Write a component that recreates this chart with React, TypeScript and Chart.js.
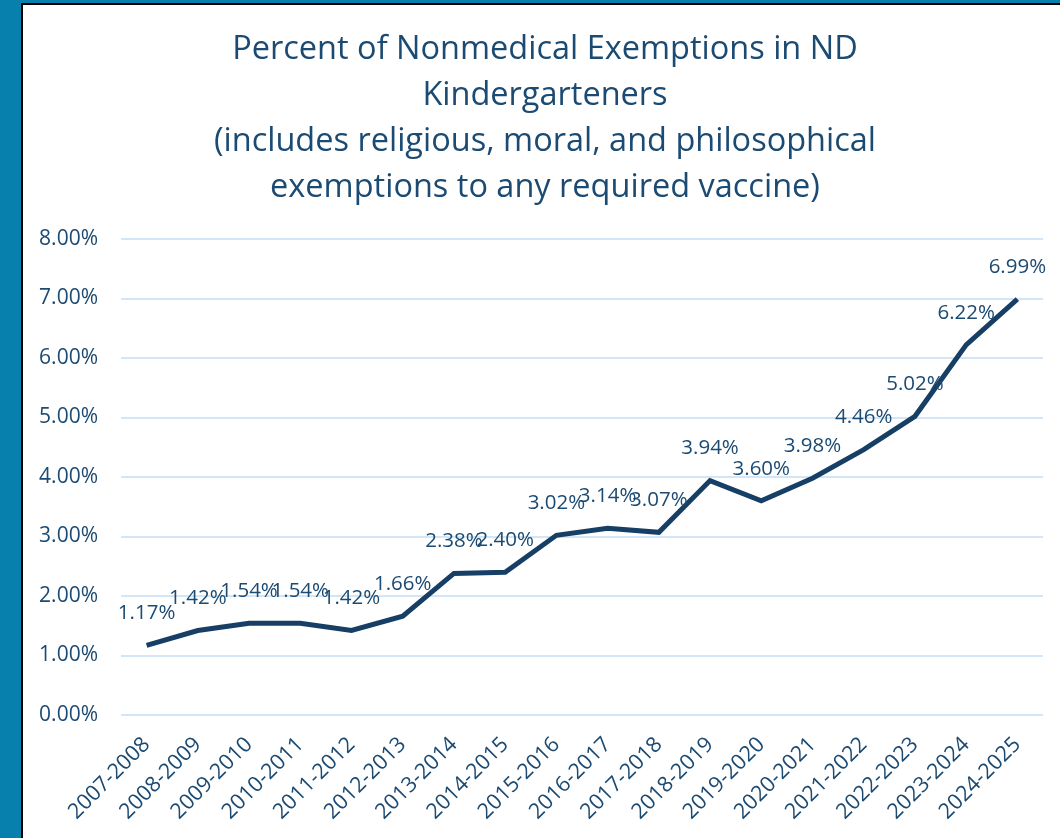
import React, { useEffect, useRef } from "react";
import { Chart, registerables } from "chart.js";

Chart.register(...registerables);

const categories = [
  "2007-2008", "2008-2009", "2009-2010", "2010-2011", "2011-2012", "2012-2013",
  "2013-2014", "2014-2015", "2015-2016", "2016-2017", "2017-2018", "2018-2019",
  "2019-2020", "2020-2021", "2021-2022", "2022-2023", "2023-2024", "2024-2025",
];
const exemptionPct = [
  1.17, 1.42, 1.54, 1.54, 1.42, 1.66, 2.38, 2.4, 3.02, 3.14, 3.07, 3.94, 3.6, 3.98,
  4.46, 5.02, 6.22, 6.99,
];
const titleLines = [
  "Percent of Nonmedical Exemptions in ND",
  "Kindergarteners",
  "(includes religious, moral, and philosophical",
  "exemptions to any required vaccine)",
];
const yTicks = [0, 1, 2, 3, 4, 5, 6, 7, 8];

const FONT = "'Open Sans', 'Noto Sans', sans-serif";
const TEXT = "#1b4a72";
const LINE = "#173f66";

export default function App() {
  const ref = useRef<HTMLCanvasElement | null>(null);

  useEffect(() => {
    document.body.style.margin = "0";
    const canvas = ref.current;
    if (!canvas) return;

    const titlePlugin = {
      id: "customTitle",
      afterDraw(chart: any) {
        const ctx = chart.ctx;
        ctx.save();
        ctx.fillStyle = TEXT;
        ctx.font = `32.5px ${FONT}`;
        ctx.textAlign = "center";
        ctx.textBaseline = "middle";
        titleLines.forEach((t, i) => {
          ctx.fillText(t, 522, 45 + i * 46);
        });
        ctx.restore();
      },
    };

    const labelPlugin = {
      id: "pointLabels",
      afterDatasetsDraw(chart: any) {
        const ctx = chart.ctx;
        const meta = chart.getDatasetMeta(0);
        ctx.save();
        ctx.fillStyle = TEXT;
        ctx.font = `20.5px ${FONT}`;
        ctx.textAlign = "center";
        ctx.textBaseline = "middle";
        meta.data.forEach((pt: any, i: number) => {
          ctx.fillText(exemptionPct[i].toFixed(2) + "%", pt.x, pt.y - 32);
        });
        ctx.restore();
      },
    };

    const chart = new Chart(canvas, {
      type: "line",
      data: {
        labels: categories,
        datasets: [
          {
            data: exemptionPct,
            borderColor: LINE,
            borderWidth: 5,
            pointRadius: 0,
            tension: 0,
            fill: false,
          },
        ],
      },
      options: {
        animation: false,
        responsive: false,
        maintainAspectRatio: false,
        layout: { padding: { top: 234, right: 17, left: 0, bottom: 0 } },
        plugins: {
          legend: { display: false },
          title: { display: false },
          tooltip: { enabled: false },
        },
        scales: {
          x: {
            offset: true,
            grid: { display: false, drawTicks: false },
            border: { display: false },
            afterFit(scale: any) {
              scale.height = 123;
            },
            ticks: {
              color: TEXT,
              font: { family: FONT, size: 21.5 },
              maxRotation: 45,
              minRotation: 45,
              autoSkip: false,
              padding: 17,
            },
          },
          y: {
            min: 0,
            max: 8,
            afterFit(scale: any) {
              scale.width = 98;
            },
            afterBuildTicks(scale: any) {
              scale.ticks = yTicks.map((v) => ({ value: v }));
            },
            grid: { color: "#d3e6f7", lineWidth: 2, drawTicks: false },
            border: { display: false },
            ticks: {
              color: TEXT,
              font: { family: FONT, size: 21 },
              padding: 23,
              callback: (v: any) => Number(v).toFixed(2) + "%",
            },
          },
        },
      },
      plugins: [titlePlugin, labelPlugin],
    });
    return () => chart.destroy();
  }, []);

  return (
    <div style={{ position: "relative", width: 1060, height: 838, background: "#0880ae", overflow: "hidden" }}>
      <div
        style={{
          position: "absolute",
          left: 21,
          top: 3,
          width: 1039,
          height: 835,
          background: "#ffffff",
          borderLeft: "2px solid #000",
          borderTop: "2px solid #000",
          boxSizing: "border-box",
        }}
      >
        <canvas ref={ref} width={1037} height={833} style={{ display: "block" }} />
      </div>
    </div>
  );
}
